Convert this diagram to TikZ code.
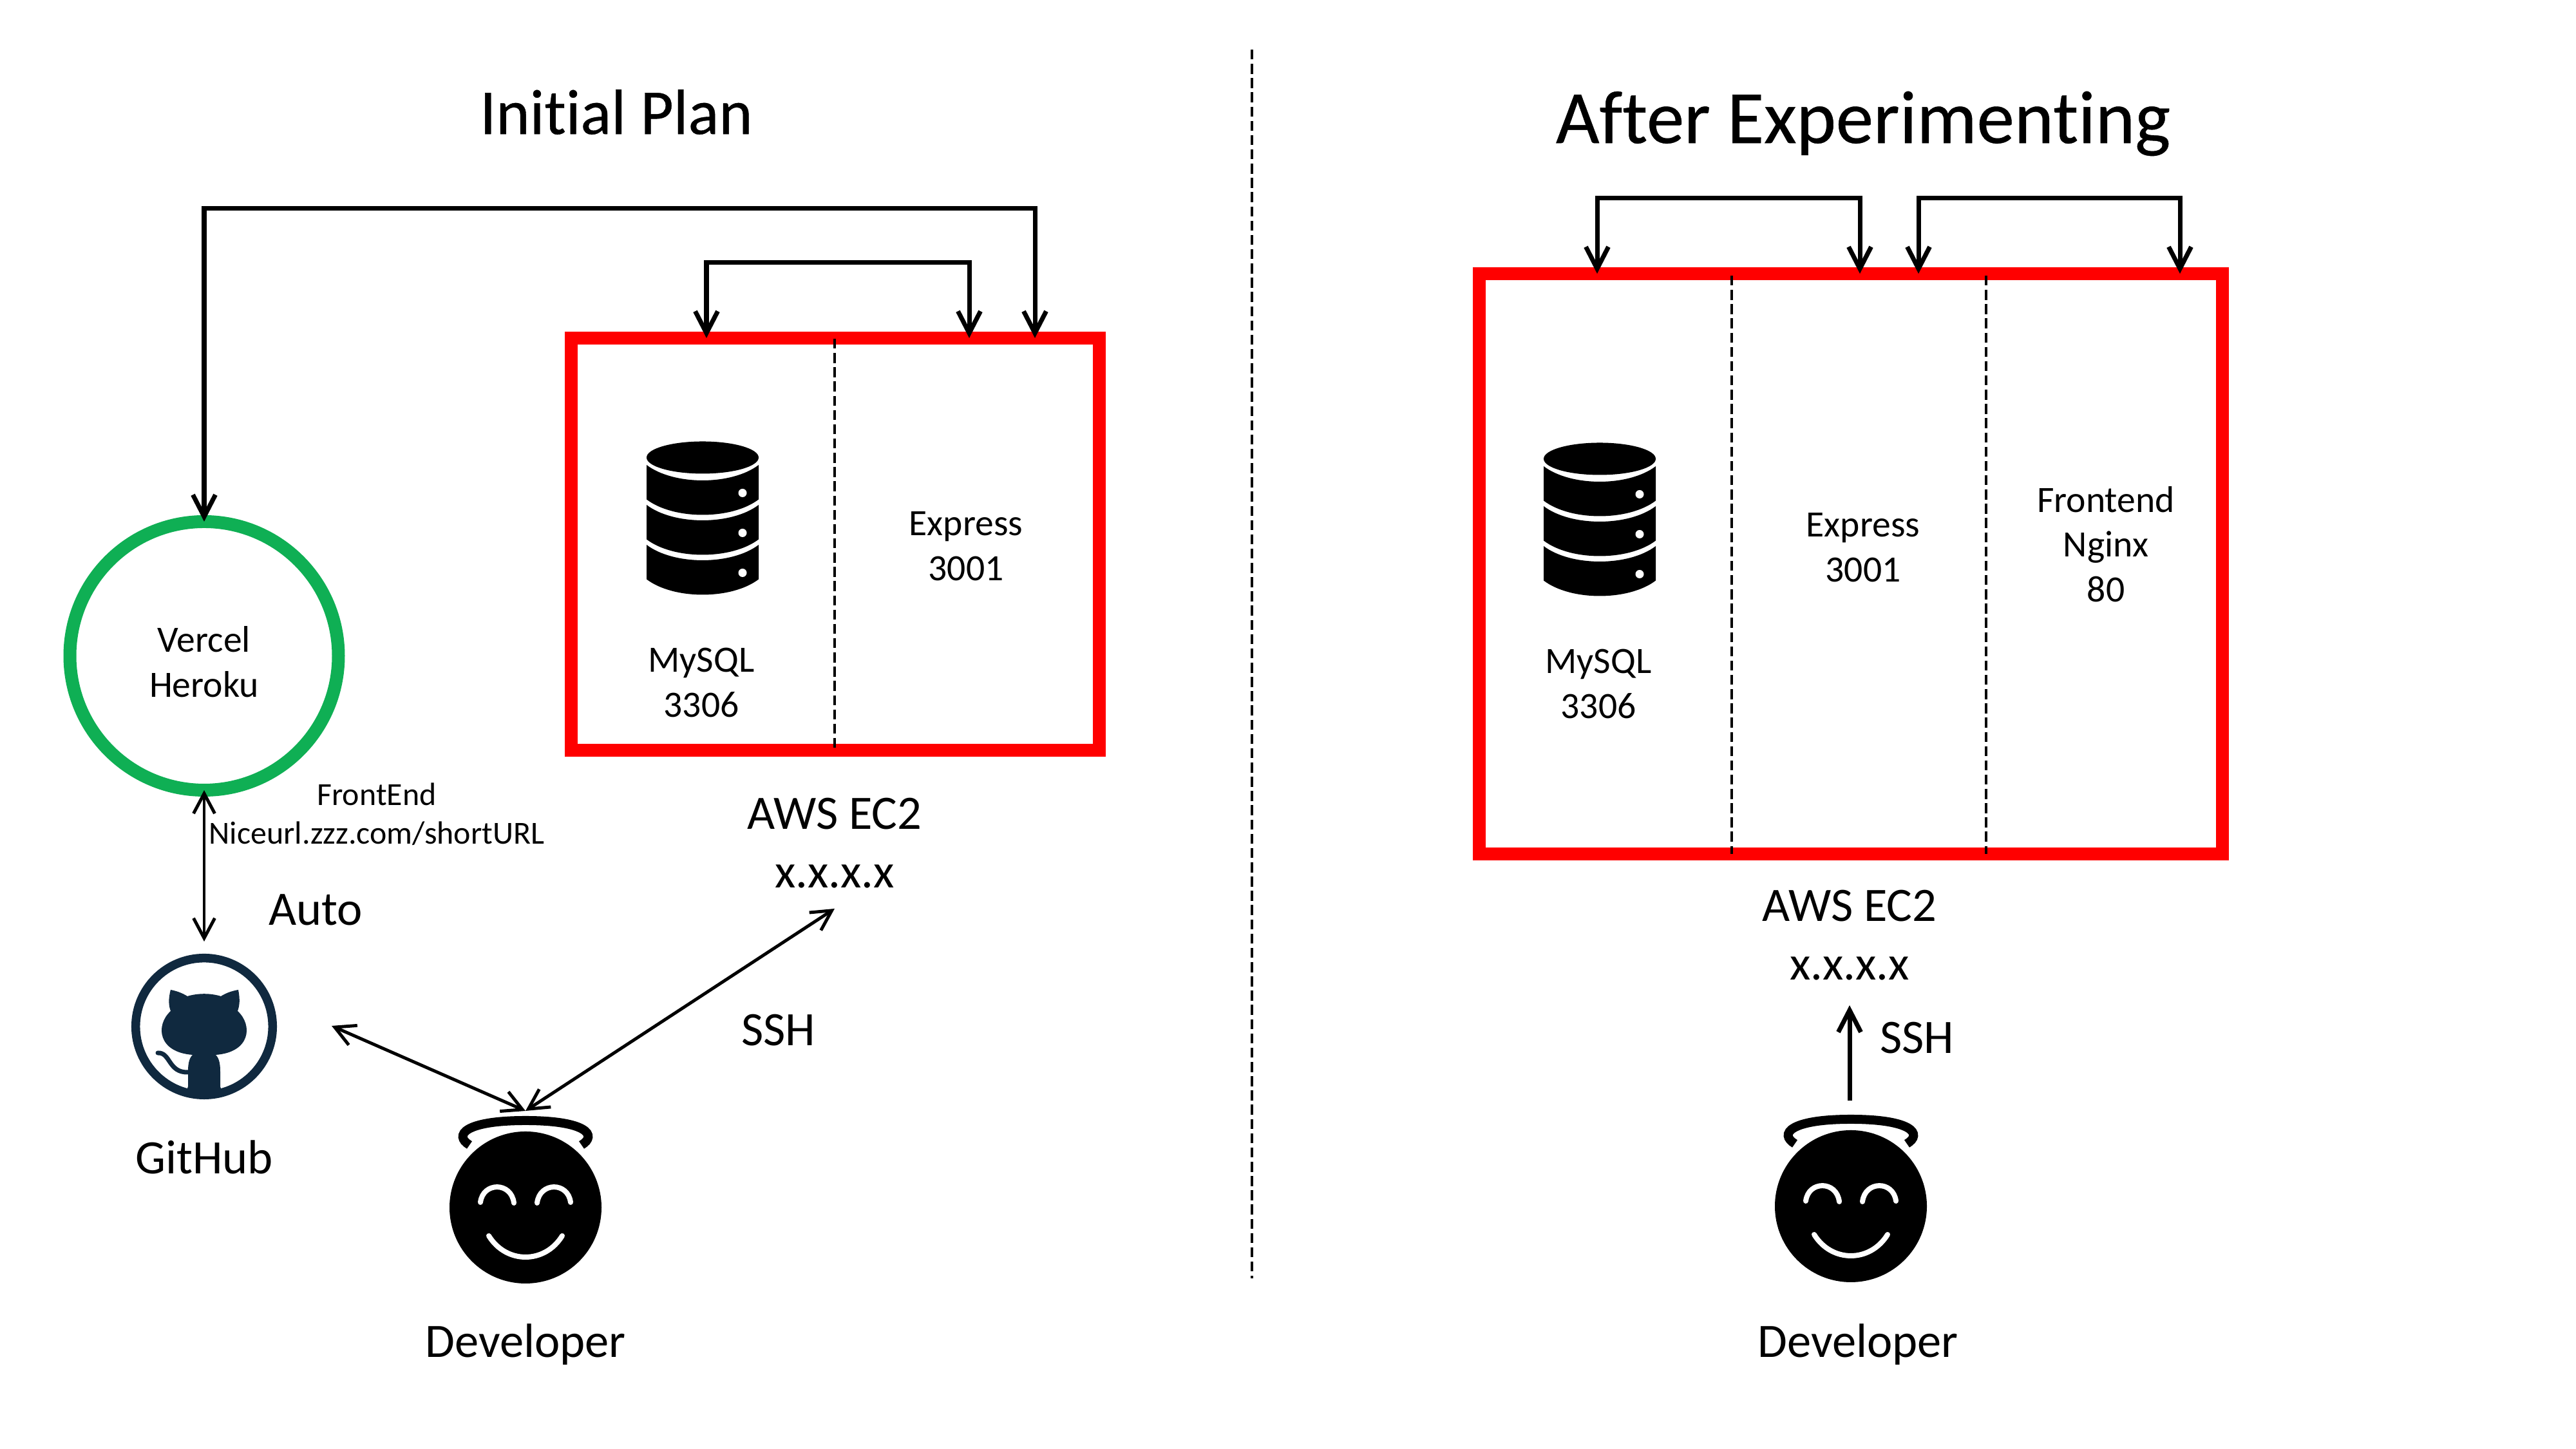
\documentclass[tikz,border=0pt]{standalone}
\usepackage{fontspec}
\setmainfont{Carlito}[Ligatures=CommonOff]
\newfontface\titleface{Carlito}[Ligatures=CommonOff,FakeBold=0.4]
\usetikzlibrary{arrows.meta}
\definecolor{ghnavy}{HTML}{10293F}
\definecolor{ringgreen}{HTML}{0FAF54}
\tikzset{
    link/.style={line width=1.4pt, >={Straight Barb[length=3.1mm,width=3.3mm]}},
    toplink/.style={line width=2pt, >={Straight Barb[length=3.4mm,width=3.5mm]}},
    divider/.style={line width=1.4pt, dash pattern=on 4.4pt off 1.9pt},
    ec2box/.style={draw=red, line width=2mm, inner sep=0pt},
    tiny/.style={font=\fontsize{14.2}{17}\selectfont, align=center},
    port/.style={font=\fontsize{16.4}{19.8}\selectfont, align=center},
    big/.style={font=\fontsize{21.2}{25.7}\selectfont, align=center},
    dbicon/.pic={
        \fill (0,.925) ellipse (.87 and .25);
        \foreach \dy in {0,-.62,-1.24} {
            \fill[shift={(0,\dy)}] (-.87,.81) .. controls (-.45,.49) and (.45,.49) .. (.87,.81)
                -- (.87,.275) .. controls (.45,-.045) and (-.45,-.045) .. (-.87,.275) -- cycle;
            \fill[white, shift={(0,\dy)}] (.62,.375) circle (.065);
        }
    },
    devface/.pic={
        \fill (0,0) circle (1.18);
        \draw[white, line width=.08cm, line cap=round]
            (-.70,.08) .. controls (-.66,.40) and (-.22,.40) .. (-.18,.07)
            (.18,.07) .. controls (.22,.40) and (.66,.40) .. (.70,.08)
            (-.57,-.44) .. controls (-.3,-.88) and (.3,-.88) .. (.57,-.44);
        \draw[line width=.14cm]
            (-.87,.97) .. controls (-1.12,1.12) and (-.95,1.35) .. (0,1.35)
            .. controls (.95,1.35) and (1.12,1.12) .. (.87,.97);
    },
    ghicon/.pic={
        \draw[ghnavy, line width=.135cm] (0,0) circle (1.063);
        \fill[ghnavy] (-.52,.57) .. controls (-.42,.55) and (-.34,.52) .. (-.26,.47)
            .. controls (-.1,.52) and (.1,.52) .. (.26,.47)
            .. controls (.34,.52) and (.42,.55) .. (.53,.57)
            .. controls (.56,.42) and (.55,.32) .. (.52,.24)
            .. controls (.76,.02) and (.72,-.40) .. (.18,-.44)
            .. controls (.24,-.50) and (.25,-.60) .. (.25,-.70)
            -- (.25,-.93) -- (.28,-1.03) -- (-.28,-1.03) -- (-.25,-.93) -- (-.25,-.70)
            .. controls (-.25,-.60) and (-.24,-.50) .. (-.18,-.44)
            .. controls (-.72,-.40) and (-.76,.02) .. (-.52,.24)
            .. controls (-.55,.32) and (-.56,.42) .. (-.52,.57) -- cycle;
        \draw[ghnavy, line width=.07cm, line cap=round]
            (-.72,-.41) .. controls (-.52,-.40) and (-.56,-.72) .. (-.25,-.71);
    },
}
\begin{document}
\begin{tikzpicture}
    \useasboundingbox (0,0) rectangle (40,22.5);

    % Middle line
    \coordinate (divtop) at (19.44,21.73);
    \coordinate (divbot) at (19.44,2.65);
    \draw[divider, line width=1.2pt] (divtop) -- (divbot);

    % Initial plan
    \node[font=\titleface\fontsize{28.3}{36}\selectfont] (plan) at (9.57,20.76) {Initial Plan};

    % EC2 box with two parts
    \node[ec2box, minimum width=8.2cm, minimum height=6.4cm] (ec2left) at (12.97,14.045) {};
    \coordinate (leftcuttop) at (12.96,17.24);
    \coordinate (leftcutbot) at (12.96,10.85);
    \draw[divider] (leftcuttop) -- (leftcutbot);
    \pic at (10.91,14.47) {dbicon};
    \node[port] (mysqlleft) at (10.89,11.90) {MySQL\\3306};
    \node[port] (expressleft) at (15.0,14.02) {Express\\3001};
    \node[big] (awsleft) at (12.96,9.41) {AWS EC2\\x.x.x.x};

    % Arrows on top of the box
    \coordinate (dbtop) at (10.97,17.25);
    \coordinate (exptop) at (15.05,17.25);
    \coordinate (hosttop) at (16.07,17.25);
    \draw[toplink, <->] (dbtop) -- ++(0,1.17) -| (exptop);

    % Vercel circle
    \node[circle, draw=ringgreen, line width=2mm, minimum size=4.17cm, inner sep=0pt,
        outer sep=0pt] (host) at (3.17,12.315) {};
    \node[port] (hostname) at (3.17,12.22) {Vercel\\Heroku};
    \draw[toplink, <->] (hosttop) -- ++(0,2.01) -| (host.north);
    \node[tiny] (front) at (5.85,9.86) {FrontEnd\\Niceurl.zzz.com/shortURL};

    % GitHub
    \pic at (3.17,6.56) {ghicon};
    \coordinate (ghtop) at (3.17,7.88);
    \coordinate (ghright) at (5.15,6.57);
    \draw[link, <->] (host.south) -- (ghtop);
    \node[big] (auto) at (4.90,8.37) {Auto};
    \node[big] (github) at (3.17,4.53) {GitHub};

    % Developer on the left
    \pic at (8.16,3.75) {devface};
    \coordinate (devleft) at (8.16,5.25);
    \coordinate (awsleftbot) at (12.96,8.39);
    \draw[link, <->] (ghright) -- (devleft);
    \draw[link, <->] (devleft) -- (awsleftbot);
    \node[big] (sshleft) at (12.09,6.50) {SSH};
    \node[big] (devlabelleft) at (8.16,1.62) {Developer};

    % After experimenting
    \node[font=\titleface\fontsize{33.2}{40}\selectfont] (after) at (28.93,20.58) {After Experimenting};

    % EC2 box with three parts
    \node[ec2box, minimum width=11.54cm, minimum height=9.01cm] (ec2right) at (28.74,13.745) {};
    \foreach \x/\cutname in {26.89/cuta,30.84/cutb} {
        \coordinate (\cutname top) at (\x,18.22);
        \coordinate (\cutname bot) at (\x,9.24);
        \draw[divider] (\cutname top) -- (\cutname bot);
    }
    \pic at (24.84,14.45) {dbicon};
    \node[port] (mysqlright) at (24.82,11.88) {MySQL\\3306};
    \node[port] (expressright) at (28.93,14.0) {Express\\3001};
    \node[port] (frontright) at (32.7,14.05) {Frontend\\Nginx\\80};

    % Arrows on top of the box
    \coordinate (rdbtop) at (24.80,18.25);
    \coordinate (rexptop) at (28.88,18.25);
    \coordinate (rexptwo) at (29.79,18.25);
    \coordinate (rfronttop) at (33.85,18.25);
    \draw[toplink, <->] (rdbtop) -- ++(0,1.175) -| (rexptop);
    \draw[toplink, <->] (rexptwo) -- ++(0,1.175) -| (rfronttop);
    \node[big] (awsright) at (28.72,7.98) {AWS EC2\\x.x.x.x};

    % Developer on the right
    \pic at (28.74,3.77) {devface};
    \coordinate (devright) at (28.72,5.41);
    \coordinate (awsrightbot) at (28.72,6.89);
    \draw[toplink, ->] (devright) -- (awsrightbot);
    \node[big] (sshright) at (29.77,6.38) {SSH};
    \node[big] (devlabelright) at (28.85,1.62) {Developer};
\end{tikzpicture}
\end{document}
